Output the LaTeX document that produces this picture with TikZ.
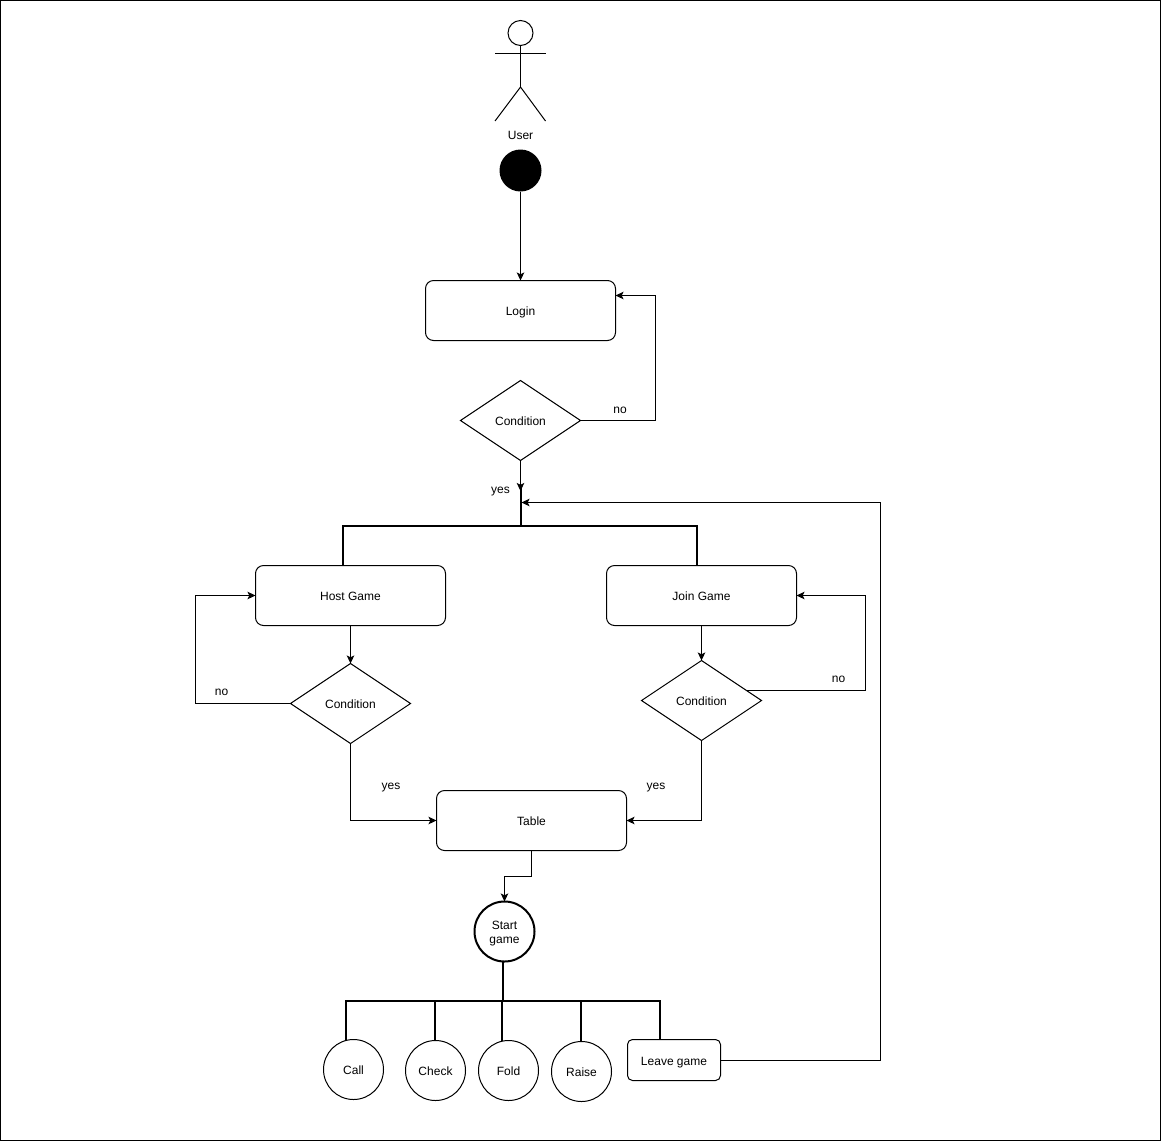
\documentclass[tikz,border=0pt]{standalone}
\usepackage{fontspec}
\setmainfont{Liberation Sans}
\usetikzlibrary{arrows.meta,shapes.geometric}

\tikzset{
	flow/.style={-{Stealth[length=8pt,width=7.5pt,inset=1.8pt]}},
	bar/.style={line width=2pt},
	textline/.style={text height=10pt, text depth=0pt},
	activity/.style={draw, textline, rounded corners=8pt, inner sep=0pt, outer sep=0pt, minimum width=190pt, minimum height=60pt},
	condition/.style={draw, textline, diamond, inner sep=0pt, outer sep=0pt, minimum width=120pt, minimum height=80pt},
	move/.style={draw, circle, inner sep=0pt, outer sep=0pt, minimum size=60pt},
	tag/.style={textline, inner sep=0pt}
}

\begin{document}
\begin{tikzpicture}[x=1pt, y=-1pt, line width=1pt, font=\fontsize{12}{14}\selectfont]
		\useasboundingbox (0, 0) rectangle (1161, 1141);
		\draw (0.5, 0.5) rectangle (1160.5, 1140.5);

		% the actor
		\node (head) at (520.5, 33) [draw, circle, inner sep=0pt, outer sep=0pt, minimum size=25pt] {};
		\coordinate (hip) at (520.5, 87);
		\coordinate (armleft) at (495, 53.5);
		\coordinate (armright) at (545.5, 53.5);
		\coordinate (footleft) at (495, 121);
		\coordinate (footright) at (545.5, 121);
		\draw (head.south) -- (hip);
		\draw (armleft) -- (armright);
		\draw (footleft) -- (hip) -- (footright);
		\node (user) at (520.5, 134.5) [tag] {User};

		\node (begin) at (520.5, 170.5) [circle, fill, inner sep=0pt, minimum size=42pt] {};

		\node (login) at (520.5, 310.5) [activity] {Login};
		\node (condlogin) at (520.5, 420.5) [condition] {Condition};
		\node (host) at (350.5, 595.5) [activity] {Host Game};
		\node (join) at (701.5, 595.5) [activity] {Join Game};
		\node (condhost) at (350.5, 703.5) [condition] {Condition};
		\node (condjoin) at (701.5, 700.5) [condition] {Condition};
		\node (table) at (531.5, 820.5) [activity] {Table};
		\node (startgame) at (504.5, 931.5) [move, line width=2pt, align=center, text height=23pt, text depth=0pt] {Start\\game};

		\node (call) at (353.5, 1069.5) [move, textline] {Call};
		\node (check) at (435.5, 1070.5) [move, textline] {Check};
		\node (fold) at (508.5, 1070.5) [move, textline] {Fold};
		\node (raise) at (581.5, 1071.5) [move, textline] {Raise};
		\node (leave) at (674, 1060) [draw, textline, rounded corners=5pt, inner sep=0pt, outer sep=0pt, minimum width=93pt, minimum height=41pt] {Leave game};

		% the labels on the branches
		\node (nologin) at (620, 408) [tag] {no};
		\node (yeslogin) at (500.5, 488) [tag] {yes};
		\node (nohost) at (221.5, 690) [tag] {no};
		\node (yeshost) at (391, 784) [tag] {yes};
		\node (nojoin) at (838.5, 677) [tag] {no};
		\node (yesjoin) at (656, 784) [tag] {yes};

		% fork below the login
		\coordinate (forktop) at (520.5, 487);
		\coordinate (forkmid) at (520.5, 526);
		\coordinate (forkin) at (520.5, 491);
		\coordinate (backin) at (521.5, 502.5);
		\coordinate (forkhost) at (343, 526);
		\coordinate (forkjoin) at (697, 526);
		\draw [bar] (forktop) -- (forkmid);
		\draw [bar] (host.north -| forkhost) -- (forkhost) -- (forkjoin) -- (join.north -| forkjoin);

		% fork below the start of the game
		\coordinate (stem) at (503, 961);
		\coordinate (stemfoot) at (503, 1001);
		\coordinate (barcall) at (345.5, 1001);
		\coordinate (barcheck) at (435, 1001);
		\coordinate (barfold) at (502, 1001);
		\coordinate (barraise) at (581, 1001);
		\coordinate (barleave) at (659.5, 1001);
		\draw [bar] (stem) -- (stemfoot);
		\draw [bar] (call.north -| barcall) -- (barcall) -- (barleave) -- (leave.north -| barleave);
		\draw [bar] (barcheck) -- (check.north -| barcheck);
		\draw [bar] (barfold) -- (fold.north -| barfold);
		\draw [bar] (barraise) -- (raise.north -| barraise);

		% the flow
		\draw [flow] (begin.south) -- (login.north);
		\draw [flow] (condlogin.east) -- (655.5, 420.5) -- (655.5, 295.5) -- ([yshift=15pt]login.east);
		\draw [flow] (condlogin.south) -- (forkin);
		\draw [flow] (leave.east) -- (880.5, 1060) -- (880.5, 502.5) -- (backin);
		\draw [flow] (host.south) -- (condhost.north);
		\draw [flow] (join.south) -- (condjoin.north);
		\draw [flow] (condhost.west) -- (195.5, 703.5) -- (195.5, 595.5) -- (host.west);
		\draw [flow] (condjoin.12.5) -| (865.5, 595.5) -- (join.east);
		\draw [flow] (condhost.south) |- (table.west);
		\draw [flow] (condjoin.south) |- (table.east);
		\draw [flow] (table.south) -- (531.5, 876.5) -- (504.5, 876.5) -- (startgame.north);
	\end{tikzpicture}
\end{document}
